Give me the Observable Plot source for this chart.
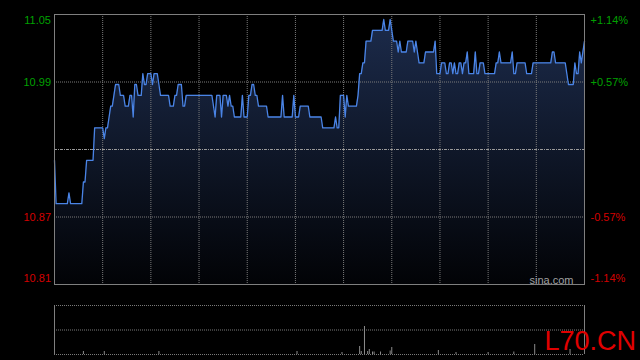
<!DOCTYPE html>
<html><head><meta charset="utf-8">
<script src="https://cdn.jsdelivr.net/npm/d3@7"></script>
<script src="https://cdn.jsdelivr.net/npm/@observablehq/plot@0.6"></script>
<style>
html,body{margin:0;padding:0;background:#000;width:640px;height:360px;overflow:hidden}
#wrap{position:relative;width:640px;height:360px}
#main{position:absolute;left:0;top:0}
#vol{position:absolute;left:0;top:290px}
</style></head><body><div id="wrap"><div id="main"></div><div id="vol"></div></div>
<script>
const prevClose = 10.93;
const pctTicks = [1.14, 0.57, -0.57, -1.14];
const priceLabels = ["11.05", "10.99", "10.87", "10.81"];
const pctLabels = ["+1.14%", "+0.57%", "-0.57%", "-1.14%"];
const gridPct = [0.57, -0.57];
const timeGrid = [30, 60, 90, 120, 150, 180, 210, 240, 270, 300];
const sessionMinutes = 330;

// one price per minute (0..330)
const prices = [
10.92,10.88,10.88,10.88,10.88,10.88,10.88,10.88,10.88,10.89,
10.88,10.88,10.88,10.88,10.88,10.88,10.88,10.88,10.90,10.90,
10.92,10.92,10.92,10.92,10.92,10.95,10.95,10.95,10.95,10.95,
10.95,10.94,10.95,10.95,10.96,10.97,10.97,10.98,10.99,10.99,
10.99,10.98,10.98,10.98,10.97,10.97,10.97,10.98,10.98,10.96,
10.99,10.99,10.98,10.98,10.98,11.00,10.99,10.99,11.00,11.00,
11.00,10.99,11.00,11.00,11.00,10.99,10.98,10.98,10.98,10.98,
10.98,10.98,10.97,10.97,10.97,10.98,10.98,10.99,10.99,10.99,
10.97,10.97,10.98,10.98,10.98,10.98,10.98,10.98,10.98,10.98,
10.98,10.98,10.98,10.98,10.98,10.98,10.98,10.98,10.98,10.97,
10.96,10.98,10.98,10.98,10.96,10.98,10.98,10.98,10.97,10.98,
10.97,10.97,10.96,10.96,10.96,10.96,10.96,10.98,10.96,10.96,
10.96,10.98,10.98,10.99,10.99,10.98,10.98,10.97,10.97,10.97,
10.97,10.97,10.97,10.96,10.96,10.96,10.96,10.96,10.96,10.96,
10.96,10.96,10.98,10.96,10.96,10.96,10.96,10.96,10.96,10.98,
10.96,10.96,10.96,10.97,10.97,10.97,10.97,10.97,10.97,10.96,
10.96,10.96,10.96,10.96,10.96,10.96,10.96,10.95,10.95,10.95,
10.95,10.95,10.95,10.95,10.95,10.96,10.95,10.95,10.98,10.98,
10.98,10.96,10.98,10.97,10.97,10.97,10.97,10.97,10.97,10.98,
11.00,11.00,11.01,11.01,11.03,11.03,11.03,11.03,11.04,11.04,
11.04,11.04,11.04,11.04,11.04,11.05,11.04,11.04,11.04,11.05,
11.04,11.03,11.03,11.03,11.02,11.03,11.02,11.02,11.02,11.02,
11.03,11.03,11.03,11.03,11.02,11.03,11.02,11.01,11.01,11.01,
11.01,11.02,11.02,11.02,11.02,11.02,11.02,11.03,11.00,11.00,
11.00,11.01,11.01,11.01,11.00,11.00,11.01,11.01,11.00,11.01,
11.00,11.00,11.01,11.01,11.00,11.01,11.01,11.02,11.00,11.00,
11.00,11.00,11.02,11.00,11.00,11.01,11.01,11.01,11.00,11.00,
11.00,11.00,11.00,11.00,11.00,11.01,11.01,11.02,11.01,11.01,
11.01,11.01,11.01,11.01,11.01,11.02,11.00,11.00,11.01,11.01,
11.01,11.01,11.01,11.01,11.00,11.00,11.00,11.00,11.01,11.01,
11.01,11.01,11.01,11.01,11.01,11.01,11.01,11.01,11.01,11.01,
11.02,11.02,11.01,11.01,11.01,11.01,11.01,11.01,11.01,11.00,
10.99,10.99,10.99,10.99,11.01,11.00,11.00,11.02,11.01,11.02,11.03
];

// notable volume bars (minute, volume)
const volMinutes = [18, 31, 65, 151, 179, 190, 191, 193, 195, 196, 198, 199, 203, 209, 210, 239, 250, 270, 286, 299, 321];
const volValues  = [3, 3, 3, 3, 2, 8, 3, 28, 3, 5, 2.5, 2.5, 2.5, 3.5, 7, 4, 2, 2, 2.5, 10, 5];
const volMax = 49;

const green = "#00a000", red = "#d40000";
const font = "'Liberation Sans', Arial, sans-serif";
const yMin = prevClose * (1 - pctTicks[0] / 100);
const yMax = prevClose * (1 + pctTicks[0] / 100);
const pctToPrice = p => prevClose * (1 + p / 100);
const labelColor = p => p > 0 ? green : red;

const gradient = () => {
  const defs = d3.create("svg:defs");
  const g = defs.append("linearGradient").attr("id", "pg")
    .attr("x1", 0).attr("y1", 0).attr("x2", 0).attr("y2", 1);
  g.append("stop").attr("offset", "0%").attr("stop-color", "#1c2b4b");
  g.append("stop").attr("offset", "100%").attr("stop-color", "#020306");
  return defs.node();
};

const idx = prices.map((d, i) => i);
const topIdx = [0], midIdx = [1, 2], botIdx = [3];
const labelMark = (which, dy) => [
  Plot.text(which, {y: i => pctToPrice(pctTicks[i]), text: i => priceLabels[i], fill: i => labelColor(pctTicks[i]),
    frameAnchor: "left", textAnchor: "end", dx: -3.5, dy, fontSize: 11}),
  Plot.text(which, {y: i => pctToPrice(pctTicks[i]), text: i => pctLabels[i], fill: i => labelColor(pctTicks[i]),
    frameAnchor: "right", textAnchor: "start", dx: 6, dy, fontSize: 11})
];

const main = Plot.plot({
  width: 640, height: 290,
  marginLeft: 54, marginRight: 56, marginTop: 14, marginBottom: 6,
  x: {domain: [0, sessionMinutes], axis: null},
  y: {domain: [yMin, yMax], axis: null},
  style: {background: "#000", fontFamily: font, overflow: "visible"},
  marks: [
    gradient,
    Plot.areaY(idx, {x: i => i, y1: yMin, y2: i => prices[i], fill: "url(#pg)"}),
    Plot.ruleY(gridPct, {y: pctToPrice, stroke: "#7a7a7a", strokeDasharray: "1,1"}),
    Plot.ruleX(timeGrid, {x: d => d, stroke: "#7a7a7a", strokeDasharray: "1,1"}),
    Plot.ruleY([prevClose], {stroke: "#9a9a9a", strokeDasharray: "3,1,1,1"}),
    Plot.line(idx, {x: i => i, y: i => prices[i], stroke: "#4a84e6", strokeWidth: 1.3}),
    Plot.frame({stroke: "#7f7f7f"}),
    ...labelMark(topIdx, 6),
    ...labelMark(midIdx, 0),
    ...labelMark(botIdx, -6),
    Plot.text(["sina.com"], {frameAnchor: "bottom-right", textAnchor: "end", lineAnchor: "bottom",
      dx: -11, dy: -1, fill: "#a0a0a0", fontSize: 11, letterSpacing: "-0.3px"})
  ]
});
document.getElementById("main").appendChild(main);

const vIdx = volMinutes.map((d, i) => i);
const vol = Plot.plot({
  width: 640, height: 70,
  marginLeft: 54, marginRight: 56, marginTop: 15, marginBottom: 6,
  x: {domain: [0, sessionMinutes], axis: null},
  y: {domain: [0, volMax], axis: null},
  style: {background: "#000", fontFamily: font, overflow: "visible"},
  marks: [
    Plot.ruleY([volMax, volMax / 2, 0], {stroke: "#7a7a7a", strokeDasharray: "1,1"}),
    Plot.ruleX(vIdx, {x: i => volMinutes[i], y1: 0, y2: i => volValues[i], stroke: "#8c8c8c"}),
    Plot.ruleX([0, sessionMinutes], {stroke: "#7f7f7f"}),
    Plot.text(["L70.CN"], {frameAnchor: "bottom-right", textAnchor: "start", lineAnchor: "bottom",
      dx: -40, dy: -5, fill: "#e00000", fontSize: 27})
  ]
});
document.getElementById("vol").appendChild(vol);
</script></body></html>
